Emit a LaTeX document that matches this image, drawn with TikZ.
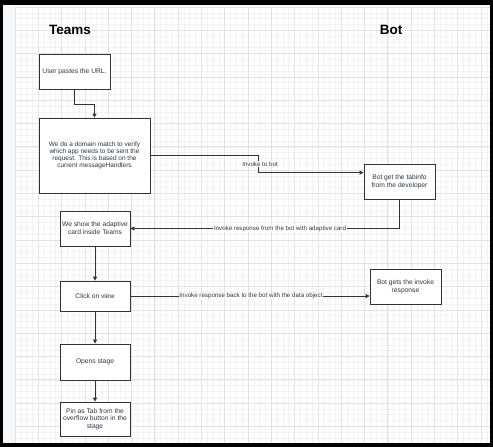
\documentclass[tikz,border=0pt]{standalone}
\usepackage{fontspec}
\setmainfont{Liberation Sans}
\usetikzlibrary{arrows.meta,calc}
\definecolor{txt}{HTML}{2F3542}
\definecolor{gminor}{HTML}{F2F2F2}
\definecolor{gmajor}{HTML}{E2E2E2}
\definecolor{pale}{HTML}{F6F8FA}
\definecolor{edge}{HTML}{333333}
\begin{document}
\begin{tikzpicture}[x=1pt,y=-1pt,
 box/.style={draw=edge, line width=0.8pt, fill=white, inner sep=1pt, align=center, font=\fontsize{6.7}{7.6}\selectfont, text=txt},
 lbl/.style={fill=white, inner sep=0.6pt, font=\fontsize{6.2}{7}\selectfont, text=txt},
 conn/.style={draw=edge, line width=0.8pt},
 arr/.style={conn, -{Triangle[length=4pt,width=4pt]}},
 ttl/.style={font=\fontsize{13.5}{15}\selectfont\bfseries, text=black}]
\useasboundingbox (0,0) rectangle (493,447);
\fill[black] (0,0) rectangle (493,447);
\fill[pale] (3,5) rectangle (490,443);
\fill[white] (15,7) rectangle (490,443);
\begin{scope}
\clip (15,7) rectangle (490,443);
\foreach \i in {0,...,82} \draw[gminor, line width=0.6pt] ({15+\i*5.825},7) -- ({15+\i*5.825},443);
\foreach \i in {0,...,75} \draw[gminor, line width=0.6pt] (15,{7+\i*5.825}) -- (490,{7+\i*5.825});
\foreach \i in {0,...,20} \draw[gmajor, line width=0.7pt] ({15+\i*23.3},7) -- ({15+\i*23.3},443);
\foreach \i in {0,...,18} \draw[gmajor, line width=0.7pt] (15,{7+\i*23.3}) -- (490,{7+\i*23.3});
\end{scope}

\node[ttl] (teams) at (70,30) {Teams};
\node[ttl] (bot) at (391,30) {Bot};

\node[box, minimum width=71pt, minimum height=35pt] (b1) at (74.5,71.5) {User pastes the URL.};
\node[box, minimum width=111pt, minimum height=75pt, font=\fontsize{6.5}{7}\selectfont] (b2) at (94.5,155.5) {We do a domain match to verify\\which app needs to be sent the\\request. This is based on the\\current messageHandlers};
\node[box, minimum width=70pt, minimum height=35pt, font=\fontsize{6.7}{8.2}\selectfont] (b3) at (95,228.5) {We show the adaptive\\card inside Teams};
\node[box, minimum width=70pt, minimum height=30pt] (b4) at (95,296) {Click on view};
\node[box, minimum width=70pt, minimum height=36pt] (b5) at (95,362) {Opens stage};
\node[box, minimum width=70pt, minimum height=34pt] (b6) at (95,419) {Pin as Tab from the\\overflow button in the\\stage};
\node[box, minimum width=71pt, minimum height=35pt] (bot1) at (399.5,181.5) {Bot get the tabinfo\\from the developer};
\node[box, minimum width=71pt, minimum height=35pt] (bot2) at (405.5,286.5) {Bot gets the invoke\\response};

\coordinate (k1) at ($(b1.south)+(0,15)$);
\draw[arr] (b1.south) -- (k1) -| (b2.north);

\coordinate (kx) at (258,0);
\coordinate (bot1in) at ($(bot1.north west)+(0,9)$);
\draw[arr] (b2.east) -- (b2.east -| kx) -- (kx |- bot1in) -- (bot1in);
\node[lbl] (l1) at (260,164) {Invoke to bot};

\draw[arr] (bot1.south) |- (b3.east);
\node[lbl] (l2) at (280,228.5) {Invoke response from the bot with adaptive card};

\draw[arr] (b4.east) -- (b4.east -| bot2.west);
\node[lbl] (l3) at (251,296) {Invoke response back to the bot with the data object};

\draw[arr] (b3.south) -- (b4.north);
\draw[arr] (b4.south) -- (b5.north);
\draw[arr] (b5.south) -- (b6.north);
\end{tikzpicture}
\end{document}
